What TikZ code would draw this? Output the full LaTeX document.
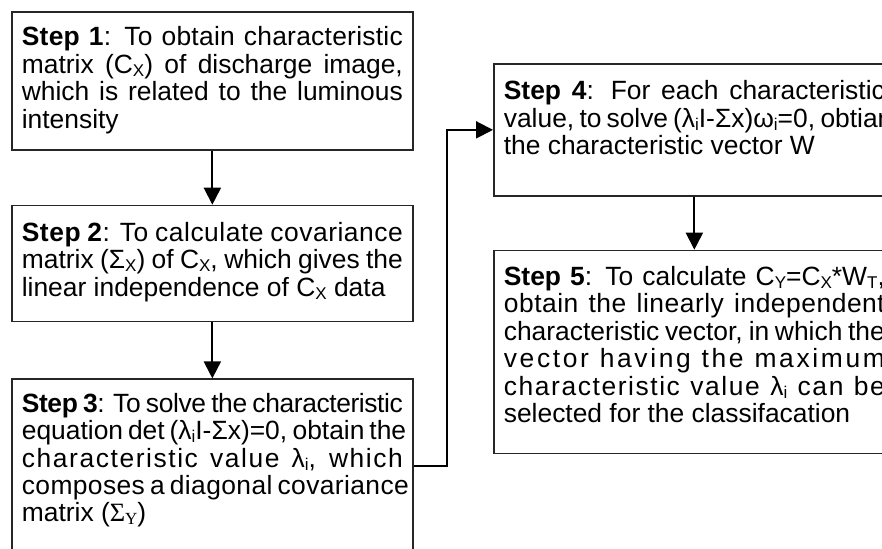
\documentclass[tikz,border=0pt]{standalone}
\usepackage{fontspec}
\setmainfont{Liberation Sans}
\newfontfamily\serifgreek{Liberation Serif}
\usetikzlibrary{positioning, arrows.meta}

\newcommand{\sbs}[1]{\raisebox{-1.5pt}{\fontsize{8.5pt}{8.5pt}\selectfont#1}}
\newcommand{\spreadline}[2]{\makebox[190.5pt][s]{\addfontfeature{LetterSpace=#1}#2}}
\newcommand{\steptext}[3]{\makebox[190.5pt][l]{\parbox[t][#1][t]{260pt}{%
  \fontsize{13.2pt}{13.7pt}\selectfont\raggedright\rule{0pt}{#2}#3}}}

\begin{document}
\begin{tikzpicture}
[x=0.5pt,y=-0.5pt,
 stepbox/.style={draw=black!85,line width=0.85pt,anchor=north west,
                 inner ysep=0pt,inner xsep=5pt,minimum width=200.5pt},
 flow/.style={-{Triangle[length=8.5pt,width=8.5pt]},line width=1pt}]
\useasboundingbox (0,0) rectangle (882,548);
\clip (0,0) rectangle (882,548);

\node[stepbox] (s1) at (11,11) {\steptext{69pt}{17pt}{%
\spreadline{1}{\textbf{Step 1}: To obtain characteristic}\\
\spreadline{0}{matrix (C\sbs{X}) of discharge image,}\\
\spreadline{0}{which is related to the luminous}\\
intensity}};
\node[stepbox, below=27pt of s1] (s2) {\steptext{58pt}{18pt}{%
\spreadline{2}{\textbf{Step 2}: To calculate covariance}\\
\spreadline{0}{matrix (Σ\sbs{X}) of C\sbs{X}, which gives the}\\
linear independence of C\sbs{X} data}};
\node[stepbox, below=28pt of s2] (s3) {\steptext{87pt}{16.5pt}{%
\spreadline{-1.5}{\textbf{Step 3}: To solve the characteristic}\\
\spreadline{0}{equation det (λ\sbs{i}I-Σx)=0, obtain the}\\
\spreadline{6}{characteristic value λ\sbs{i}, which}\\
\spreadline{1.5}{composes a diagonal covariance}\\
matrix ({\serifgreek Σ\sbs{Y}})}};

\node[stepbox] (s4) at (493,63) {\steptext{66pt}{18pt}{%
\spreadline{0}{\textbf{Step 4}: For each characteristic}\\
\spreadline{0}{value, to solve (λ\sbs{i}I-Σx)ω\sbs{i}=0, obtian}\\
the characteristic vector W}};
\node[stepbox, below=26.5pt of s4] (s5) {\steptext{101.5pt}{17.5pt}{%
\spreadline{0}{\textbf{Step 5}: To calculate C\sbs{Y}=C\sbs{X}*W\sbs{T},}\\
\spreadline{2}{obtain the linearly independent}\\
\spreadline{0}{characteristic vector, in which the}\\
\spreadline{10}{vector having the maximum}\\
\spreadline{6}{characteristic value λ\sbs{i} can be}\\
selected for the classifacation}};

\coordinate (turn) at (447,0);

\draw[flow] (s1) -- (s2);
\draw[flow] (s2) -- (s3);
\draw[flow] (s3.east) -- (s3.east -| turn) |- (s4.west);
\draw[flow] (s4) -- (s5);
\end{tikzpicture}
\end{document}
